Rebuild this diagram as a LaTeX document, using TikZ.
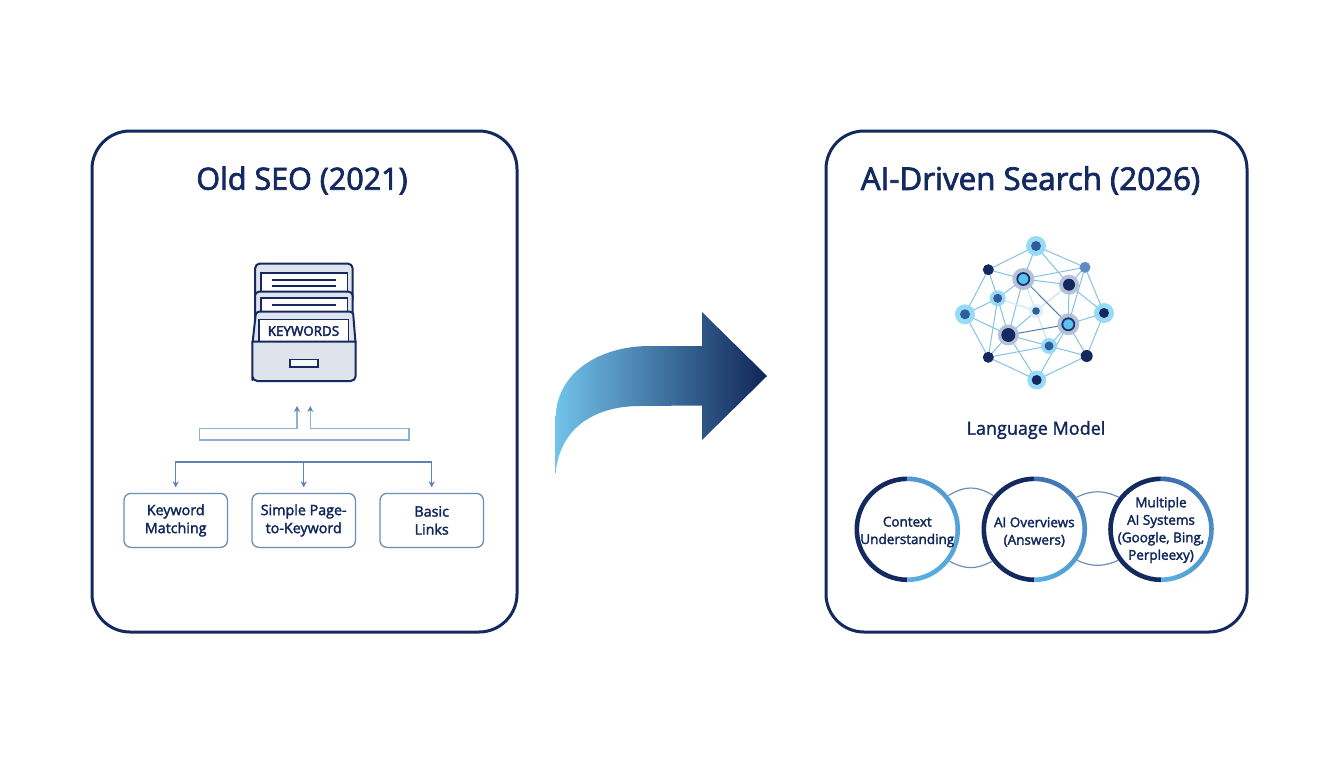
\documentclass[tikz,border=0pt]{standalone}
\usepackage{fontspec}
\setmainfont{Open Sans}
\newcommand{\emb}[1]{\special{pdf:code 2 Tr #1 w}}
\usetikzlibrary{arrows.meta,backgrounds,calc}
\pgfdeclarelayer{halo}
\pgfsetlayers{background,halo,main}
\definecolor{navy}{HTML}{14295F}
\definecolor{ink}{HTML}{10275C}
\definecolor{boxline}{HTML}{6C8DB5}
\definecolor{treeline}{HTML}{5B83B3}
\definecolor{thinline}{HTML}{8FB0D5}
\definecolor{drawerfill}{HTML}{DFE4EC}
\definecolor{edgec}{HTML}{86C2E2}
\definecolor{paleedge}{HTML}{C6E2F2}
\definecolor{darkedge}{HTML}{4F7FB0}
\definecolor{halolight}{HTML}{8FD8F7}
\definecolor{halogray}{HTML}{AEBCD6}
\definecolor{halopale}{HTML}{D6EEF9}
\definecolor{corelight}{HTML}{5CC3EF}
\definecolor{coremid}{HTML}{2F5C9B}
\definecolor{coreblue}{HTML}{5C8DC4}
\definecolor{ringtop}{HTML}{5AAEE0}
\definecolor{arrowl}{HTML}{72C2EA}
\definecolor{arrowm}{HTML}{3F70A6}
\definecolor{arrowr}{HTML}{0F2557}
\definecolor{linkc}{HTML}{6F8FB8}
\definecolor{ringb1}{HTML}{4F97D2}
\definecolor{ringb2}{HTML}{3E6FB0}
\definecolor{ringb3}{HTML}{3A6BAE}
\tikzset{
  panel/.style={draw=navy,line width=3pt,rounded corners=38pt},
  titletext/.style={text=navy,font=\fontsize{#1}{34}\selectfont\emb{0.75}},
  labeltext/.style={text=ink,font=\fontsize{14.3}{18}\selectfont\emb{0.3},align=center},
  keybox/.style={draw=boxline,line width=1.3pt,rounded corners=7pt,minimum width=103.5pt,minimum height=54pt,outer sep=0pt,labeltext},
  tree/.style={draw=treeline,line width=1.3pt},
  treearrow/.style={tree,-{Stealth[length=6pt,width=6pt]},shorten >=6pt},
  thin/.style={draw=thinline,line width=1.2pt,{Stealth[length=6pt,width=6pt,color=treeline]}-{Stealth[length=6pt,width=6pt,color=treeline]}},
  folder/.style={draw=navy,line width=2pt,fill=drawerfill,line join=round},
  paper/.style={draw=navy,line width=1.6pt,fill=white},
  ruling/.style={draw=navy,line width=1.4pt},
  edge/.style={draw=edgec,line width=1pt},
  pale/.style={draw=paleedge,line width=1pt},
  dark/.style={draw=darkedge,line width=1pt},
  dot/.style n args={2}{circle,inner sep=0pt,outer sep=0pt,fill=#1,minimum size=#2*2pt},
  hub/.style={circle,inner sep=0pt,outer sep=0pt,fill=corelight,draw=navy!80!coremid,line width=1.8pt,minimum size=12pt},
  ringnode/.style={circle,fill=white,minimum size=106pt,inner sep=0pt,outer sep=0pt},
  ringtext/.style={text=ink,font=\fontsize{13.5}{17.5}\selectfont\emb{0.3},align=center},
  link/.style={draw=linkc,line width=1.2pt},
}
\newcommand{\haloof}[3]{\begin{pgfonlayer}{halo}\fill[#3,opacity=.9] (#1.center) circle (#2pt);\end{pgfonlayer}}
\newcommand{\ringdraw}[2]{%
  \draw[navy,line width=4.6pt] (#1.center) ++(90:50.5pt) arc[start angle=90,end angle=270,radius=50.5pt];
  \foreach \ang [evaluate=\ang as \mixv using {(\ang+90)/180*100}, evaluate=\ang as \nxt using {\ang+5.6}] in {-90,-85,...,85}{
    \draw[color=#2!\mixv!ringtop,line width=4.6pt] (#1.center) ++(\ang:50.5pt) arc[start angle=\ang,end angle=\nxt,radius=50.5pt];
  }%
}
\begin{document}
\begin{tikzpicture}[x=1pt,y=-1pt]
\useasboundingbox (0,0) rectangle (1344,768);
\begin{pgfonlayer}{background}
\fill[white] (0,0) rectangle (1344,768);
\end{pgfonlayer}

% panels
\draw[panel] (92,131) rectangle (517,632);
\draw[panel] (826,131) rectangle (1247,632);
\node[titletext=30.5] (t1) at (302,180.5) {Old SEO (2021)};
\node[titletext=31.3] (t2) at (1030.5,180.5) {AI-Driven Search (2026)};

% drawer icon
\draw[folder,rounded corners=5pt] (255,300) -- (255,263.5) -- (352.7,263.5) -- (352.7,300);
\fill[paper] (260.7,300) -- (260.7,272.7) -- (347.3,272.7) -- (347.3,300) -- cycle;
\draw[ruling] (271.7,280) -- (336,280);
\draw[ruling] (271.7,286) -- (336,286);
\draw[folder,rounded corners=4pt] (255,320) -- (255,291.7) -- (352.7,291.7) -- (352.7,320);
\draw[paper] (260.7,320) -- (260.7,297.7) -- (347.3,297.7) -- (347.3,320) -- cycle;
\draw[ruling] (271.7,305) -- (336,305);
\draw[folder,rounded corners=3pt] (252.3,345) -- (256,311.7) -- (353,311.7) -- (355.7,345) -- cycle;
\draw[paper] (259,341.7) -- (259,319.3) -- (348.3,319.3) -- (348.3,341.7) -- cycle;
\node[text=navy,font=\fontsize{13.4}{15}\selectfont\emb{0.45}] (kw) at (303.5,331) {KEYWORDS};
\draw[folder] (252.3,341.7) -- (355.7,341.7) -- (355.7,375) [rounded corners=5pt] -- (355.7,381) -- (252.3,381) -- (252.3,375) [sharp corners] -- cycle;
\draw[navy,line width=1.6pt,fill=white!70!drawerfill] (289.7,359.3) rectangle (318,367);

% upper connector
\coordinate (upl) at (297,406);
\coordinate (upr) at (310.3,406);
\draw[thin] (upl) -- (297,428.3) -- (199.3,428.3) -- (199.3,440) -- (409,440) -- (409,428.3) -- (310.3,428.3) -- (upr);

% boxes and tree
\node[keybox] (b1) at (175.7,520.4) {Keyword\\Matching};
\node[keybox] (b2) at (303.7,520.4) {Simple Page-\\to-Keyword};
\node[keybox] (b3) at (431.7,520.4) {Basic\\Links};
\coordinate (bus) at (303.7,462);
\draw[treearrow] (bus) -| (b1.north);
\draw[treearrow] (bus) -- (b2.north);
\draw[treearrow] (bus) -| (b3.north);

% big arrow
\shade[left color=arrowl,middle color=arrowm,right color=arrowr]
  (555.7,473) -- (555.7,416.7)
  .. controls (557,372) and (600,346) .. (650,346)
  -- (702,346) -- (702,312) -- (767,376) -- (702,440) -- (702,405.5) -- (640,406)
  .. controls (590,406) and (559,432) .. (555.7,473) -- cycle;

% network
\node[dot={coremid}{5}] (n1) at (1036,246) {};
\node[dot={navy}{5.5}] (n2) at (988.3,269.7) {};
\node[dot={coreblue}{5.5}] (n3) at (1085,267.3) {};
\node[hub] (n4) at (1023.3,279) {};
\node[dot={navy}{6}] (n5) at (1069,284.7) {};
\node[dot={coremid}{4.5}] (n6) at (997.7,298.3) {};
\node[dot={coremid}{5}] (n7) at (965,314.3) {};
\node[dot={coremid}{3.8}] (n8) at (1036,311) {};
\node[dot={navy}{5}] (n9) at (1104,313) {};
\node[hub] (n10) at (1068.3,324.3) {};
\node[dot={navy}{7}] (n11) at (1008.3,335) {};
\node[dot={coremid}{4.5}] (n12) at (1049,346) {};
\node[dot={navy}{5.5}] (n13) at (988.3,357.3) {};
\node[dot={navy}{6}] (n14) at (1086.7,356) {};
\node[dot={navy}{5}] (n15) at (1036.7,380) {};
\haloof{n1}{10}{halolight}
\haloof{n4}{11}{halogray}
\haloof{n5}{10}{halogray}
\haloof{n6}{8}{halolight}
\haloof{n7}{10}{halolight}
\haloof{n8}{7}{halopale}
\haloof{n9}{10}{halolight}
\haloof{n10}{11}{halogray}
\haloof{n11}{10.5}{halogray}
\haloof{n12}{8}{halolight}
\haloof{n15}{9.5}{halolight}
\begin{pgfonlayer}{background}
\foreach \a/\b in {1/2,1/3,1/4,1/5,2/4,2/6,2/7,3/4,3/5,3/9,3/10,4/5,4/6,4/11,5/9,5/10,6/7,6/11,6/13,7/11,7/13,8/11,9/10,9/14,10/12,10/14,10/15,11/12,11/13,11/15,12/13,12/14,13/15,14/15}
  \draw[edge] (n\a.center) -- (n\b.center);
\foreach \a/\b in {4/8,5/8,6/8,8/12}
  \draw[pale] (n\a.center) -- (n\b.center);
\foreach \a/\b in {4/10,10/11}
  \draw[dark] (n\a.center) -- (n\b.center);
\end{pgfonlayer}
\node[text=ink,font=\fontsize{18}{22}\selectfont\emb{0.3}] (lm) at (1036,430) {Language Model};

% rings
\node[ringnode] (c1) at (907.3,529.3) {};
\node[ringnode] (c2) at (1034.3,529.3) {};
\node[ringnode] (c3) at (1161,529.3) {};
\begin{pgfonlayer}{background}
\draw[link] (c1.center) .. controls +(60,-55) and +(-60,-55) .. (c2.center);
\draw[link] (c1.center) .. controls +(60,51) and +(-60,51) .. (c2.center);
\draw[link] (c2.center) .. controls +(55,-50) and +(-55,-50) .. (c3.center);
\draw[link] (c2.center) .. controls +(55,48) and +(-55,48) .. (c3.center);
\end{pgfonlayer}
\ringdraw{c1}{ringb1}
\ringdraw{c2}{ringb2}
\ringdraw{c3}{ringb3}
\node[ringtext] (l1) at (907.3,532) {Context\\Understanding};
\node[ringtext] (l2) at (1034.3,532) {AI Overviews\\(Answers)};
\node[ringtext] (l3) at (1161,530) {Multiple\\AI Systems\\(Google, Bing,\\Perpleexy)};
\end{tikzpicture}
\end{document}
